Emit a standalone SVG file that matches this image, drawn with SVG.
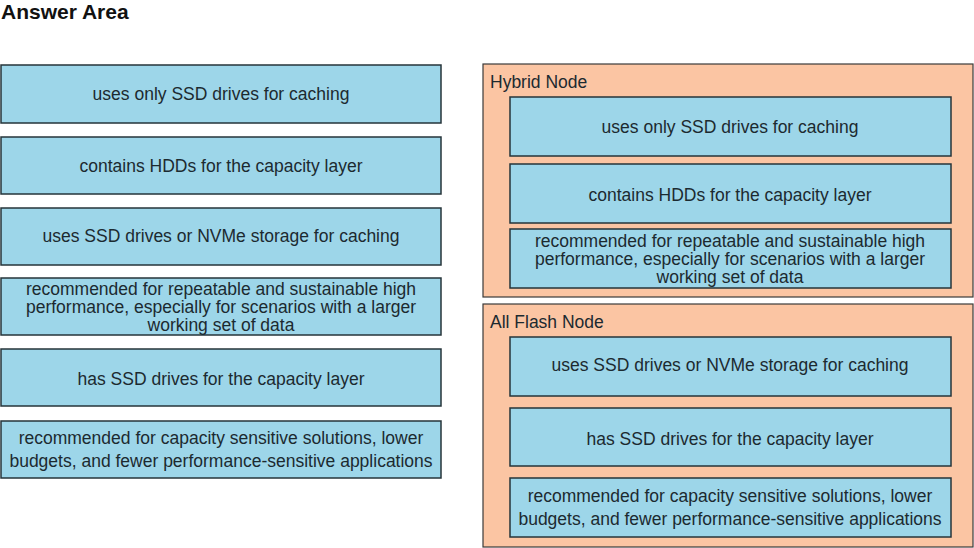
<svg xmlns="http://www.w3.org/2000/svg" width="974" height="548" viewBox="0 0 974 548">
<style>
.bg{fill:#ffffff}
.box{fill:#9dd6e9;stroke:#26343a;stroke-width:1.5}
.cont{fill:#fbc5a3;stroke:#3a3a3a;stroke-width:1.2}
.t{font-family:"Liberation Sans",Arial,sans-serif;font-size:17.5px;fill:#1c2a30;text-anchor:middle}
.h{font-family:"Liberation Sans",Arial,sans-serif;font-size:17.5px;fill:#1c2a30}
.title{font-family:"Liberation Sans",Arial,sans-serif;font-size:21px;font-weight:bold;fill:#111}
</style>
<rect class="bg" x="0" y="0" width="974" height="548"/>
<text class="title" x="1" y="19">Answer Area</text>
<g id="left-options">
<g id="opt1"><rect class="box" x="1" y="65" width="440" height="58"/><text class="t" x="221" y="100">uses only SSD drives for caching</text></g>
<g id="opt2"><rect class="box" x="1" y="137" width="440" height="57"/><text class="t" x="221" y="172">contains HDDs for the capacity layer</text></g>
<g id="opt3"><rect class="box" x="1" y="208" width="440" height="57"/><text class="t" x="221" y="242">uses SSD drives or NVMe storage for caching</text></g>
<g id="opt4"><rect class="box" x="1" y="278" width="440" height="57"/><text class="t" x="221" y="295">recommended for repeatable and sustainable high</text><text class="t" x="221" y="313">performance, especially for scenarios with a larger</text><text class="t" x="221" y="331">working set of data</text></g>
<g id="opt5"><rect class="box" x="1" y="349" width="440" height="57"/><text class="t" x="221" y="385">has SSD drives for the capacity layer</text></g>
<g id="opt6"><rect class="box" x="1" y="421" width="440" height="57"/><text class="t" x="221" y="444">recommended for capacity sensitive solutions, lower</text><text class="t" x="221" y="467">budgets, and fewer performance-sensitive applications</text></g>
</g>
<g id="hybrid">
<rect class="cont" x="483" y="64" width="490" height="233"/>
<text class="h" x="490" y="88">Hybrid Node</text>
<g id="h1"><rect class="box" x="510" y="97" width="441" height="59"/><text class="t" x="730" y="133">uses only SSD drives for caching</text></g>
<g id="h2"><rect class="box" x="510" y="164" width="441" height="59"/><text class="t" x="730" y="201">contains HDDs for the capacity layer</text></g>
<g id="h3"><rect class="box" x="510" y="229" width="441" height="59"/><text class="t" x="730" y="247">recommended for repeatable and sustainable high</text><text class="t" x="730" y="265">performance, especially for scenarios with a larger</text><text class="t" x="730" y="283">working set of data</text></g>
</g>
<g id="allflash">
<rect class="cont" x="483" y="304" width="490" height="243"/>
<text class="h" x="490" y="328">All Flash Node</text>
<g id="f1"><rect class="box" x="510" y="337" width="441" height="59"/><text class="t" x="730" y="371">uses SSD drives or NVMe storage for caching</text></g>
<g id="f2"><rect class="box" x="510" y="408" width="441" height="58"/><text class="t" x="730" y="445">has SSD drives for the capacity layer</text></g>
<g id="f3"><rect class="box" x="510" y="478" width="441" height="59"/><text class="t" x="730" y="502">recommended for capacity sensitive solutions, lower</text><text class="t" x="730" y="525">budgets, and fewer performance-sensitive applications</text></g>
</g>
<g id="connectors"></g>
</svg>
